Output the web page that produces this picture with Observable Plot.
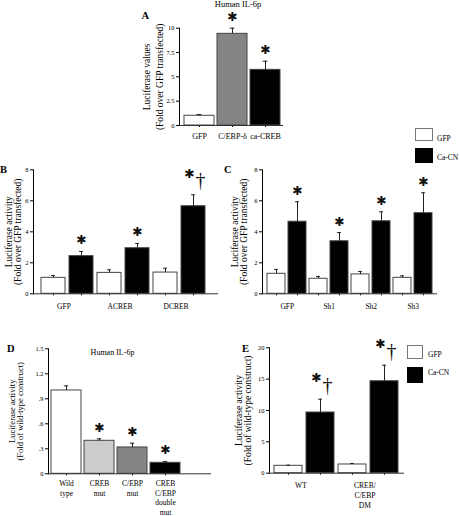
<!DOCTYPE html>
<html><head><meta charset="utf-8">
<script src="https://cdn.jsdelivr.net/npm/d3@7"></script>
<script src="https://cdn.jsdelivr.net/npm/@observablehq/plot@0.6"></script>
<style>
html,body{margin:0;padding:0;background:#fff;}
#fig{position:relative;width:460px;height:516px;overflow:hidden;font-family:"Liberation Serif","Times New Roman",serif;color:#000;}
#fig svg{position:absolute;left:0;top:0;background:none !important;overflow:visible;}
.lbl{position:absolute;white-space:nowrap;line-height:1;}
.box{position:absolute;box-sizing:border-box;}
</style></head><body><div id="fig"></div>
<script>
// ---------- DATA ----------
// Panel A
const aCategories = ["GFP", "C/EBP-δ", "ca-CREB"];
const aValues = [1.0, 9.42, 5.72];
const aErrors = [0.13, 0.58, 0.89];
const aMarks = ["", "*", "*"];
const aTicks = [0, 2.5, 5, 7.5, 10];

// Panel B
const bGroups = ["GFP", "ACREB", "DCREB"];
const bGfp = [1.03, 1.35, 1.37];
const bGfpErr = [0.15, 0.2, 0.28];
const bCaCN = [2.43, 2.94, 5.65];
const bCaCNErr = [0.3, 0.31, 0.74];
const bMarks = ["*", "*", "*†"];
const bTicks = [0, 2, 4, 6, 8];

// Panel C
const cGroups = ["GFP", "Sh1", "Sh2", "Sh3"];
const cGfp = [1.29, 0.97, 1.25, 1.03];
const cGfpErr = [0.28, 0.15, 0.19, 0.13];
const cCaCN = [4.65, 3.39, 4.68, 5.2];
const cCaCNErr = [1.29, 0.56, 0.61, 1.32];
const cMarks = ["*", "*", "*", "*"];
const cTicks = [0, 2, 4, 6, 8];

// Panel D
const dCategories = ["Wild\ntype", "CREB\nmut", "C/EBP\nmut", "CREB\nC/EBP\ndouble\nmut"];
const dValues = [1.0, 0.396, 0.316, 0.132];
const dErrors = [0.055, 0.024, 0.051, 0.016];
const dMarks = ["", "*", "*", "*"];
const dTicks = [0, 0.3, 0.6, 0.9, 1.2, 1.5];
const dTickLabels = ["0", ".3", ".6", ".9", "1.2", "1.5"];

// Panel E
const eGroups = ["WT", "CREB/\nC/EBP\nDM"];
const eGfp = [1.18, 1.39];
const eGfpErr = [0.1, 0.16];
const eCaCN = [9.68, 14.67];
const eCaCNErr = [2.12, 2.55];
const eMarks = ["*†", "*†"];
const eTicks = [0, 5, 10, 15, 20];

const seriesNames = ["GFP", "Ca-CN"];

// ---------- STYLES ----------
const seriesFill = {"GFP": "#ffffff", "Ca-CN": "#000000"};
const aFills = ["#ffffff", "#858585", "#000000"];
const dFills = ["#ffffff", "#cccccc", "#858585", "#000000"];
const W = 460, H = 516;
const FONT = "'Liberation Serif', 'Times New Roman', serif";

function grouped(groups, gv, ge, cv, ce, marks) {
  const rows = [];
  groups.forEach((g, i) => {
    rows.push({key: g + "|GFP", group: g, value: gv[i], err: ge[i], fill: seriesFill["GFP"], mark: ""});
    rows.push({key: g + "|Ca-CN", group: g, value: cv[i], err: ce[i], fill: seriesFill["Ca-CN"], mark: marks[i]});
  });
  return rows;
}
function single(cats, vals, errs, fills, marks) {
  return cats.map((c, i) => ({key: c, group: c, value: vals[i], err: errs[i], fill: fills[i], mark: marks[i]}));
}

function panel(o) {
  const bars = o.bars;
  const n = bars.length;
  const pi = o.pi, po = o.po;
  const step = (o.x1 - o.x0 - o.insetL - o.insetR) / (n - pi + 2 * po);
  const bw = step * (1 - pi);
  const capIn = Math.max(0, bw / 2 - 2.4);
  const labelRows = o.grouped
    ? bars.filter((d, i) => i % 2 === 0).map(d => ({key: d.key, text: d.group}))
    : bars.map(d => ({key: d.key, text: d.group}));
  const labelDx = o.grouped ? step / 2 + o.labelShift : 0;
  const single = bars.filter(d => d.mark === "*");
  const dag = bars.filter(d => d.mark === "*†");
  return Plot.plot({
    width: W, height: H,
    marginLeft: o.x0, marginRight: W - o.x1, marginTop: o.y0, marginBottom: H - o.y1,
    style: {fontFamily: FONT, fontSize: "6.5px", background: "none", overflow: "visible"},
    color: {type: "identity"},
    x: {domain: bars.map(d => d.key), paddingInner: pi, paddingOuter: po, align: 0.5,
        insetLeft: o.insetL, insetRight: o.insetR, tickSize: 2, tickFormat: () => "", label: null},
    y: {domain: o.yDomain, ticks: o.yTicks, tickFormat: o.yFormat || (d => String(d)),
        tickSize: 3, tickPadding: 2, line: true, label: null},
    marks: [
      Plot.barY(bars, {x: "key", y: "value", fill: "fill", stroke: "#444", strokeWidth: 1}),
      Plot.ruleX(bars, {x: "key", y1: "value", y2: d => d.value + d.err, stroke: "#222", strokeWidth: 1}),
      Plot.tickY(bars, {x: "key", y: d => d.value + d.err, stroke: "#222", strokeWidth: 1, insetLeft: capIn, insetRight: capIn}),
      Plot.ruleY([0], {stroke: "#333", strokeWidth: 1}),
      Plot.text(single, {x: "key", y: d => d.value + d.err, text: () => "✱", dy: -11,
        fontSize: 12.5, fontFamily: "DejaVu Sans", fill: "#111"}),
      Plot.text(dag, {x: "key", y: d => d.value + d.err, text: () => "✱", dy: -21, dx: -4,
        fontSize: 12.5, fontFamily: "DejaVu Sans", fill: "#111"}),
      Plot.text(dag, {x: "key", y: d => d.value + d.err, text: () => "†", dy: -14, dx: 7,
        fontSize: 20, fontFamily: FONT, fill: "#111"}),
      Plot.text(labelRows, {x: "key", text: "text", frameAnchor: "bottom", lineAnchor: "top", textAnchor: "middle",
        dy: o.labelDy, dx: labelDx, fontSize: o.labelSize, lineHeight: o.labelLH || 1.2}),
      Plot.text([o.yTitle], {text: d => d, frameAnchor: "left", textAnchor: "middle", lineAnchor: "middle",
        rotate: -90, dx: o.titleDx, fontSize: o.titleSize, lineHeight: o.titleLH})
    ]
  });
}

const fig = document.getElementById("fig");

fig.appendChild(panel({
  x0: 179, x1: 283, y0: 27.7, y1: 125, yDomain: [0, 10], yTicks: aTicks,
  pi: 0.095, po: 0.095, insetL: 1, insetR: 0,
  bars: single(aCategories, aValues, aErrors, aFills, aMarks), grouped: false,
  labelDy: 7, labelSize: 8,
  yTitle: "Luciferase values\n(Fold over GFP transfected)", titleDx: -27, titleSize: 9.5, titleLH: 1.3
}));

fig.appendChild(panel({
  x0: 33, x1: 218, y0: 169.3, y1: 293.3, yDomain: [0, 8], yTicks: bTicks,
  pi: 0.138, po: 0.138, insetL: 1, insetR: 6,
  bars: grouped(bGroups, bGfp, bGfpErr, bCaCN, bCaCNErr, bMarks), grouped: true, labelShift: -4,
  labelDy: 9, labelSize: 7.5,
  yTitle: "Luciferase activity\n(Fold over GFP transfected)", titleDx: -20, titleSize: 9.5, titleLH: 1.0
}));

fig.appendChild(panel({
  x0: 262, x1: 437, y0: 169.3, y1: 293.3, yDomain: [0, 8], yTicks: cTicks,
  pi: 0.12, po: 0.12, insetL: 0, insetR: 0,
  bars: grouped(cGroups, cGfp, cGfpErr, cCaCN, cCaCNErr, cMarks), grouped: true, labelShift: 0,
  labelDy: 9, labelSize: 7.5,
  yTitle: "Luciferase activity\n(Fold over GFP transfected)", titleDx: -23, titleSize: 9.5, titleLH: 1.0
}));

fig.appendChild(panel({
  x0: 48, x1: 211, y0: 348.3, y1: 473.3, yDomain: [0, 1.5], yTicks: dTicks,
  yFormat: d => dTickLabels[dTicks.indexOf(d)],
  pi: 0.1, po: 0.03, insetL: 0, insetR: 29,
  bars: single(dCategories, dValues, dErrors, dFills, dMarks), grouped: false,
  labelDy: 6, labelSize: 7.5, labelLH: 1.25,
  yTitle: "Luciferase activity\n(Fold of wild-type construct)", titleDx: -32, titleSize: 8.5, titleLH: 1.0
}));

fig.appendChild(panel({
  x0: 269, x1: 404, y0: 347.3, y1: 472.7, yDomain: [0, 20], yTicks: eTicks,
  pi: 0.115, po: 0.115, insetL: 0, insetR: 0,
  bars: grouped(eGroups, eGfp, eGfpErr, eCaCN, eCaCNErr, eMarks), grouped: true, labelShift: -4,
  labelDy: 8, labelSize: 7.5, labelLH: 1.3,
  yTitle: "Luciferase activity\n(Fold of wild-type construct)", titleDx: -26, titleSize: 9.5, titleLH: 0.95
}));

// ---------- annotations (HTML) ----------
function addText(t, left, top, size, css) {
  const el = document.createElement("div");
  el.className = "lbl";
  el.textContent = t;
  el.style.left = left + "px";
  el.style.top = top + "px";
  el.style.fontSize = size + "px";
  if (css) Object.assign(el.style, css);
  fig.appendChild(el);
}
function addBox(left, top, w, h, fill, border) {
  const el = document.createElement("div");
  el.className = "box";
  Object.assign(el.style, {left: left + "px", top: top + "px", width: w + "px", height: h + "px",
    background: fill, border: "1px solid " + border});
  fig.appendChild(el);
}
const bold = {fontWeight: "bold"};
addText("A", 141.5, 11.2, 10.5, bold);
addText("B", 0, 164.5, 10.5, bold);
addText("C", 224, 164.5, 10.5, bold);
addText("D", 7, 344, 10.5, bold);
addText("E", 242, 344, 10.5, bold);
addText("Human IL-6p", 238, 0, 8.5, {transform: "translateX(-50%)"});
addText("Human IL-6p", 112.5, 349.3, 8, {transform: "translateX(-50%)"});

// legend for B / C
addBox(415, 128, 18, 13, seriesFill["GFP"], "#777");
addBox(415, 148, 18, 15, seriesFill["Ca-CN"], "#000");
addText(seriesNames[0], 437, 134.5, 7.5);
addText(seriesNames[1], 437, 153.5, 7.5);
// legend for E
addBox(407, 345, 16, 14, seriesFill["GFP"], "#777");
addBox(407, 367, 16, 16, seriesFill["Ca-CN"], "#000");
addText(seriesNames[0], 428, 351, 7.5);
addText(seriesNames[1], 428, 369, 7.5);
</script></body></html>
